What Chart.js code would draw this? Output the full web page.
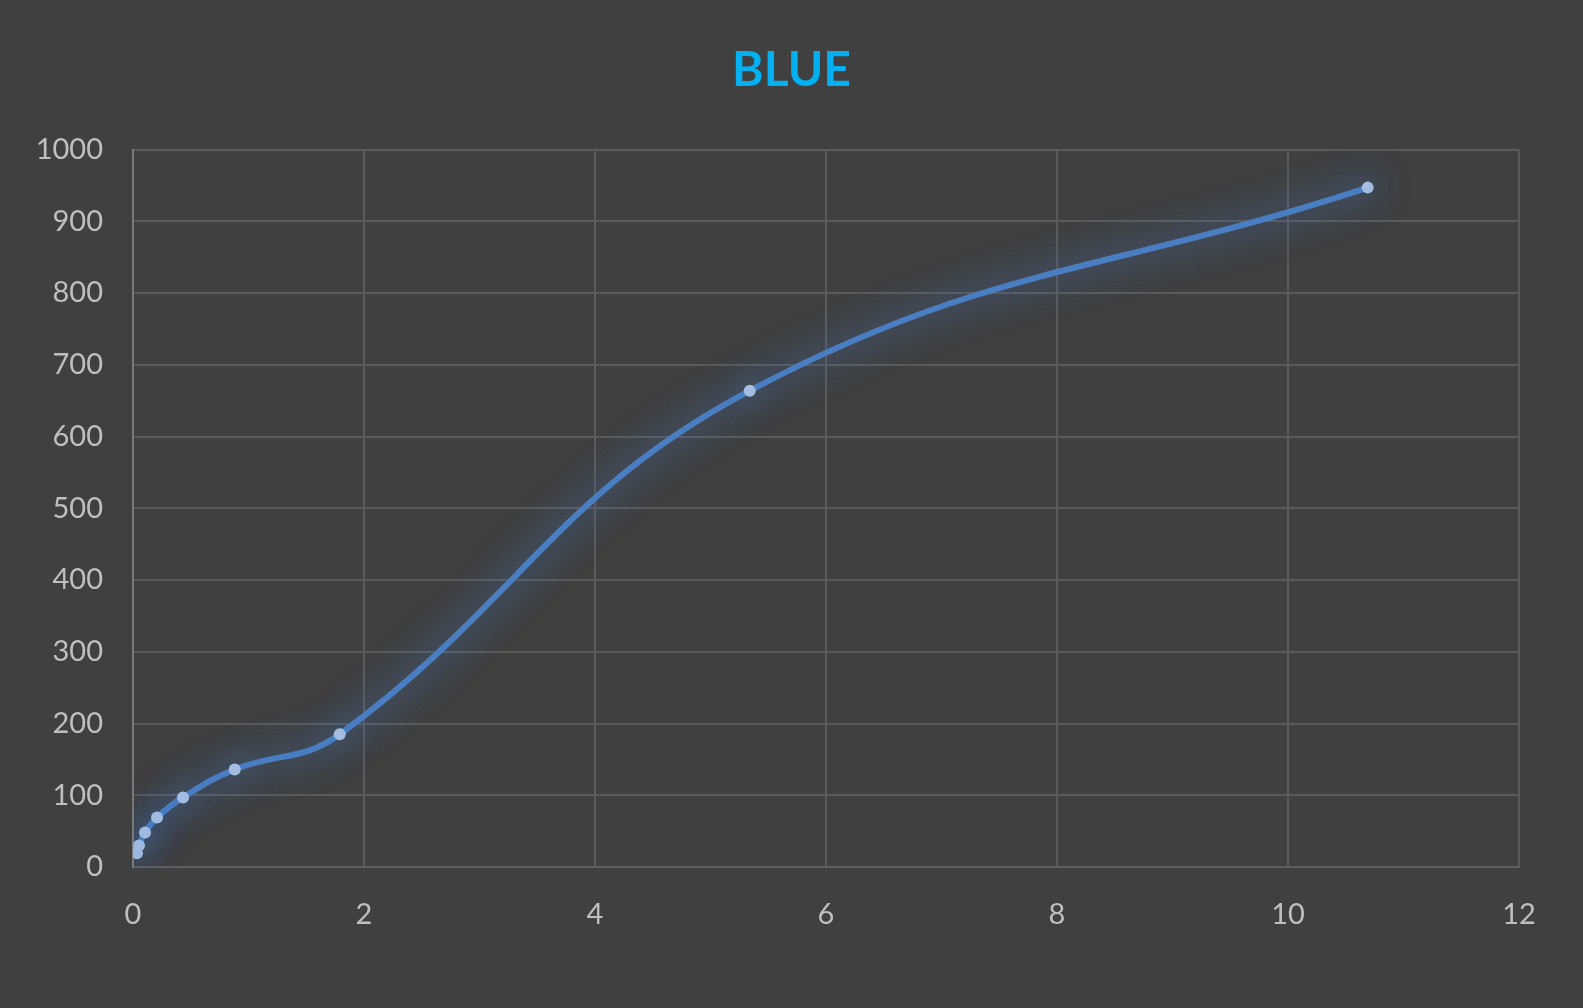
<!DOCTYPE html>
<html>
<head>
<meta charset="utf-8">
<script src="https://cdn.jsdelivr.net/npm/chart.js@4/dist/chart.umd.min.js"></script>
<style>
  html, body { margin: 0; padding: 0; background: #404040; }
  #wrap { width: 1583px; height: 1008px; }
</style>
</head>
<body>
<div id="wrap"><canvas id="myChart"></canvas></div>
<script>
// values
const xValues = [0.035, 0.052, 0.104, 0.208, 0.433, 0.881, 1.79, 5.34, 10.69];
const yValues = [19, 30, 48, 69, 97, 136, 185, 664, 947];
const xTicks = [0, 2, 4, 6, 8, 10, 12];
const yTicks = [0, 100, 200, 300, 400, 500, 600, 700, 800, 900, 1000];
const chartTitle = "BLUE";

const points = xValues.map((x, i) => ({ x: x, y: yValues[i] }));

// soft glow round the line, like the office "glow" effect
const glowPlugin = {
  id: "glow",
  beforeDatasetDraw(chart) {
    const ctx = chart.ctx;
    ctx.save();
    ctx.shadowColor = "rgba(70,130,215,0.95)";
    ctx.shadowBlur = 34;
  },
  afterDatasetDraw(chart) {
    chart.ctx.restore();
  }
};

// centre the title on the whole canvas, not on the padded area
const centreTitle = {
  id: "centreTitle",
  afterLayout(chart) {
    const t = chart.titleBlock;
    if (t) {
      t.left = 0;
      t.right = chart.width;
    }
  }
};

const tickFont = { family: "Lato", size: 29 };

const config = {
  type: "scatter",
  data: {
    datasets: [{
      label: chartTitle,
      data: points,
      showLine: true,
      tension: 0.42,
      borderColor: "#4a7ec2",
      borderWidth: 6,
      pointRadius: 6,
      pointBackgroundColor: "#a3bde2",
      pointBorderColor: "#a3bde2",
      pointBorderWidth: 0
    }]
  },
  options: {
    responsive: true,
    maintainAspectRatio: false,
    animation: false,
    layout: { padding: { left: 20, right: 64, top: 0, bottom: 0 } },
    plugins: {
      legend: { display: false },
      tooltip: { enabled: false },
      title: {
        display: true,
        text: chartTitle,
        color: "#00b0f0",
        font: { family: "Lato", size: 48, weight: "bold" },
        padding: { top: 42, bottom: 50 }
      }
    },
    scales: {
      x: {
        type: "linear",
        min: 0,
        max: 12,
        afterBuildTicks: (scale) => { scale.ticks = xTicks.map(v => ({ value: v })); },
        afterFit: (scale) => { scale.height = 141; },
        ticks: { color: "#bfbfbf", font: tickFont, padding: 30, callback: (v) => String(v) },
        grid: { color: "#5a5a5a", lineWidth: 2, drawTicks: false },
        border: { color: "#5e5e5e", width: 2 }
      },
      y: {
        type: "linear",
        min: 0,
        max: 1000,
        afterBuildTicks: (scale) => { scale.ticks = yTicks.map(v => ({ value: v })); },
        afterFit: (scale) => { scale.width = 113; },
        ticks: { color: "#bfbfbf", font: tickFont, padding: 30, callback: (v) => String(v) },
        grid: { color: "#5a5a5a", lineWidth: 2, drawTicks: false },
        border: { color: "#7a7a7a", width: 2 }
      }
    }
  },
  plugins: [glowPlugin, centreTitle]
};

window.addEventListener("load", function () {
  const myChart = new Chart(document.getElementById("myChart"), config);
});
</script>
</body>
</html>
